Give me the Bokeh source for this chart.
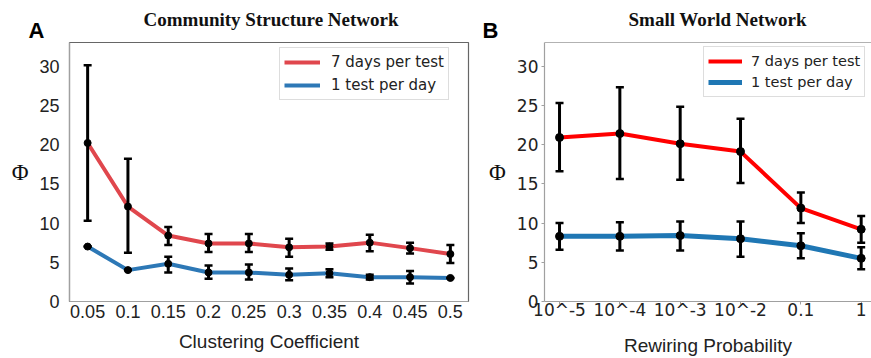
from bokeh.plotting import figure
from bokeh.layouts import row
from bokeh.models import (ColumnDataSource, Whisker, TeeHead, Title, Legend, LegendItem,
                          FixedTicker, Range1d, Span)
from bokeh.embed import file_html
from bokeh.resources import INLINE

# ---------------- data ----------------
cc = [0.05, 0.1, 0.15, 0.2, 0.25, 0.3, 0.35, 0.4, 0.45, 0.5]
cc_labels = ["0.05", "0.1", "0.15", "0.2", "0.25", "0.3", "0.35", "0.4", "0.45", "0.5"]
cs_red = [20.2, 12.1, 8.4, 7.4, 7.4, 6.9, 7.0, 7.5, 6.8, 6.05]
cs_red_lo = [10.3, 6.2, 7.2, 6.3, 6.3, 5.7, 6.6, 6.4, 6.1, 4.9]
cs_red_hi = [30.1, 18.2, 9.5, 8.6, 8.6, 8.0, 7.4, 8.5, 7.5, 7.2]
cs_blue = [7.0, 4.0, 4.8, 3.7, 3.7, 3.4, 3.6, 3.1, 3.1, 3.0]
cs_blue_lo = [7.0, 4.0, 3.7, 2.9, 2.8, 2.7, 3.1, 2.8, 2.3, 3.0]
cs_blue_hi = [7.0, 4.0, 5.7, 4.6, 4.7, 4.2, 4.1, 3.4, 3.9, 3.0]

rp_labels = ["10^-5", "10^-4", "10^-3", "10^-2", "0.1", "1"]
sw_red = [20.9, 21.4, 20.1, 19.1, 11.9, 9.2]
sw_red_lo = [16.6, 15.6, 15.5, 15.1, 10.0, 7.5]
sw_red_hi = [25.3, 27.3, 24.8, 23.3, 13.9, 10.9]
sw_blue = [8.3, 8.3, 8.4, 8.0, 7.1, 5.5]
sw_blue_lo = [6.6, 6.5, 6.5, 5.7, 5.5, 4.1]
sw_blue_hi = [10.0, 10.1, 10.2, 10.2, 8.7, 6.9]

y_ticks = [0, 5, 10, 15, 20, 25, 30]
series_names = ["7 days per test", "1 test per day"]


def add_series(p, x, y, lo, hi, color, lw):
    src = ColumnDataSource(dict(x=x, y=y, lo=lo, hi=hi))
    ln = p.line("x", "y", source=src, line_color=color, line_width=lw)
    w = Whisker(source=src, base="x", upper="hi", lower="lo", dimension="height",
                line_color="black", line_width=3, level="annotation",
                upper_head=TeeHead(size=8, line_color="black", line_width=2.5),
                lower_head=TeeHead(size=8, line_color="black", line_width=2.5))
    p.add_layout(w)
    return ln, src


def style(p, tick_font, tick_size, ticks_visible):
    p.grid.visible = False
    p.yaxis.ticker = FixedTicker(ticks=y_ticks)
    for ax in (p.xaxis[0], p.yaxis[0]):
        ax.axis_line_color = "#a0a0a0"
        ax.axis_line_width = 1.2
        ax.minor_tick_line_color = None
        ax.major_label_text_font = tick_font
        ax.major_label_text_font_size = tick_size
        ax.major_label_text_color = "#222222"
        ax.axis_label_text_font = "Liberation Sans"
        ax.axis_label_text_font_size = "19px"
        ax.axis_label_text_font_style = "normal"
        ax.axis_label_text_color = "#222222"
        if ticks_visible:
            ax.major_tick_line_color = "#a0a0a0"
            ax.major_tick_in = 0
            ax.major_tick_out = 3
        else:
            ax.major_tick_line_color = None
    # Greek Phi as horizontal y-axis label
    p.yaxis.axis_label = "Φ"
    p.yaxis.axis_label_text_font = "Liberation Serif"
    p.yaxis.axis_label_text_font_size = "23px"
    p.yaxis.axis_label_text_color = "#111111"
    p.yaxis.axis_label_standoff = 8
    try:
        p.yaxis.axis_label_orientation = "horizontal"
    except Exception:
        pass


def add_titles(p, letter, letter_offset, title, title_offset):
    p.add_layout(Title(text=letter, align="left", offset=letter_offset, standoff=0,
                       text_font="Liberation Sans", text_font_style="bold",
                       text_font_size="22px", text_color="black"), "above")
    p.add_layout(Title(text=title, align="left", offset=title_offset, standoff=-28,
                       text_font="Liberation Serif", text_font_style="bold",
                       text_font_size="19px", text_color="#111111"), "above")


def make_legend(p, r1, r2, loc, font, fsize, gw, standoff, spacing):
    leg = Legend(items=[LegendItem(label=series_names[0], renderers=[r1]),
                        LegendItem(label=series_names[1], renderers=[r2])],
                 location=loc, margin=0, padding=4, spacing=spacing,
                 glyph_width=gw, glyph_height=20, label_height=20, label_standoff=standoff,
                 label_text_font=font, label_text_font_size=fsize, label_text_color="#222222",
                 border_line_color="#bbbbbb", border_line_width=1,
                 background_fill_alpha=0.9)
    p.add_layout(leg)


# ---------------- panel A ----------------
p1 = figure(width=476, height=358, x_range=Range1d(0.0275, 0.5225), y_range=Range1d(0, 33),
            output_backend="svg", toolbar_location=None,
            min_border_left=69, min_border_right=8, min_border_top=42, min_border_bottom=57)
style(p1, "Liberation Sans", "18px", False)
add_titles(p1, "A", -41, "Community Structure Network", 74)
p1.xaxis.ticker = FixedTicker(ticks=cc)
p1.xaxis.major_label_overrides = {c: l for c, l in zip(cc, cc_labels)}
p1.xaxis.axis_label = "Clustering Coefficient"
p1.xaxis.major_label_standoff = -3
p1.xaxis.axis_label_standoff = 10
p1.yaxis.major_label_standoff = 4
p1.outline_line_color = "#666666"
p1.outline_line_width = 1.2

r1, s1 = add_series(p1, cc, cs_red, cs_red_lo, cs_red_hi, "#e0474d", 4)
r2, s2 = add_series(p1, cc, cs_blue, cs_blue_lo, cs_blue_hi, "#2d78b6", 4)
p1.scatter("x", "y", source=s1, size=7, color="black", level="annotation")
p1.scatter("x", "y", source=s2, size=7, color="black", level="annotation")
make_legend(p1, r1, r2, (210, 201), "DejaVu Sans", "15px", 36, 11, 3)

# ---------------- panel B ----------------
xi = list(range(len(rp_labels)))
p2 = figure(width=395, height=358, x_range=Range1d(-0.249, 5.171), y_range=Range1d(0, 33),
            output_backend="svg", toolbar_location=None,
            min_border_left=68, min_border_right=0, min_border_top=42, min_border_bottom=57)
style(p2, "DejaVu Sans", "17px", True)
add_titles(p2, "B", -62, "Small World Network", 84)
p2.xaxis.ticker = FixedTicker(ticks=xi)
p2.xaxis.major_label_overrides = {i: l for i, l in zip(xi, rp_labels)}
p2.xaxis.axis_label = "Rewiring Probability"
p2.xaxis.major_label_standoff = -5
p2.xaxis.axis_label_standoff = 12
p2.yaxis.major_label_standoff = 3
p2.outline_line_color = None
p2.add_layout(Span(location=33, dimension="width", line_color="#666666", line_width=1.2))

r3, s3 = add_series(p2, xi, sw_red, sw_red_lo, sw_red_hi, "#ff0000", 4)
r4, s4 = add_series(p2, xi, sw_blue, sw_blue_lo, sw_blue_hi, "#1f77b4", 5)
p2.scatter("x", "y", source=s3, size=8, color="black", level="annotation")
p2.scatter("x", "y", source=s4, size=8, color="black", level="annotation")
make_legend(p2, r3, r4, (159, 204), "DejaVu Sans", "14.5px", 34, 9, 1)

layout = row(p1, p2)
open("out.html", "w").write(file_html(layout, INLINE))
